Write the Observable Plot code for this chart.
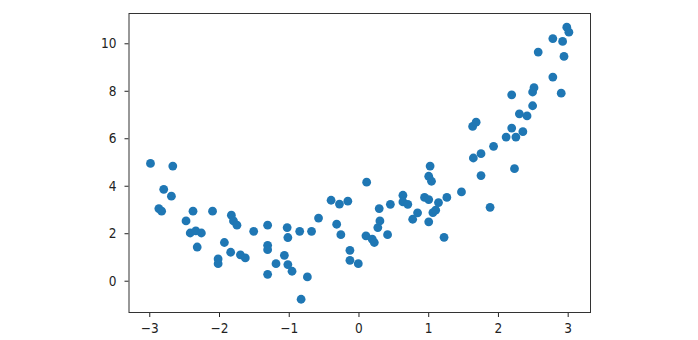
<!DOCTYPE html>
<html>
<head>
<meta charset="utf-8">
<script src="https://cdn.jsdelivr.net/npm/d3@7"></script>
<script src="https://cdn.jsdelivr.net/npm/@observablehq/plot@0.6"></script>
<style>
  html, body { margin: 0; padding: 0; background: #fff; }
  #chart svg { display: block; }
  #chart text { font-family: "DejaVu Sans Condensed", "DejaVu Sans", sans-serif; font-stretch: condensed; }
</style>
</head>
<body>
<div id="chart"></div>
<script>
const xs = [-2.99,-2.67,-2.80,-2.69,-2.87,-2.83,-2.48,-2.38,-2.42,-2.34,-2.26,-2.32,-2.10,-1.93,-2.02,-2.02,-1.83,-1.80,-1.75,-1.84,-1.70,-1.63,-1.51,-1.31,-1.31,-1.31,-1.31,-1.19,-1.07,-1.03,-1.02,-1.02,-0.96,-0.83,-0.85,-0.74,-0.68,-0.58,-0.40,-0.32,-0.28,-0.26,-0.16,-0.13,-0.13,-0.01,0.10,0.11,0.19,0.22,0.27,0.30,0.29,0.41,0.45,0.63,0.63,0.70,0.77,0.84,0.94,1.00,1.00,1.02,1.00,1.04,1.06,1.10,1.14,1.22,1.26,1.47,1.63,1.68,1.64,1.75,1.75,1.88,1.93,2.11,2.19,2.19,2.25,2.23,2.30,2.41,2.35,2.49,2.49,2.51,2.57,2.78,2.78,2.92,2.90,2.94,2.98,3.01];
const ys = [4.96,4.85,3.87,3.58,3.06,2.95,2.54,2.95,2.03,2.12,2.03,1.44,2.95,1.63,0.94,0.74,2.78,2.54,2.36,1.22,1.11,0.98,2.10,2.36,1.51,1.33,0.29,0.74,1.09,2.26,1.84,0.70,0.42,-0.76,2.10,0.18,2.10,2.66,3.41,2.40,3.25,1.96,3.37,1.30,0.88,0.74,1.91,4.17,1.77,1.63,2.26,2.54,3.06,1.96,3.24,3.62,3.34,3.24,2.61,2.88,3.53,2.50,3.44,4.85,4.42,4.21,2.89,2.99,3.31,1.85,3.53,3.76,6.52,6.70,5.19,5.37,4.45,3.11,5.68,6.07,6.45,7.85,6.07,4.74,7.05,6.96,6.30,7.39,7.97,8.15,9.65,8.60,10.22,10.10,7.92,9.47,10.70,10.49];
const xTicks = [-3,-2,-1,0,1,2,3];
const yTicks = [0,2,4,6,8,10];

const data = xs.map((x, i) => ({x, y: ys[i]}));
const intFmt = d3.format("d");

const chart = Plot.plot({
  width: 698,
  height: 340,
  marginLeft: 128.5,
  marginRight: 108,
  marginTop: 13,
  marginBottom: 28,
  style: {fontSize: "13.5px", color: "#222", background: "#fff"},
  x: {domain: [-3.298, 3.32], ticks: xTicks, tickFormat: intFmt, tickSize: 5, tickPadding: 5.5, label: null},
  y: {domain: [-1.318, 11.276], ticks: yTicks, tickFormat: intFmt, tickSize: 4, tickPadding: 8.5, label: null},
  marks: [
    Plot.dot(data, {x: "x", y: "y", r: 4.4, fill: "#1f77b4", stroke: "none"}),
    Plot.frame({stroke: "#333", strokeWidth: 1})
  ]
});
document.getElementById("chart").appendChild(chart);
</script>
</body>
</html>
